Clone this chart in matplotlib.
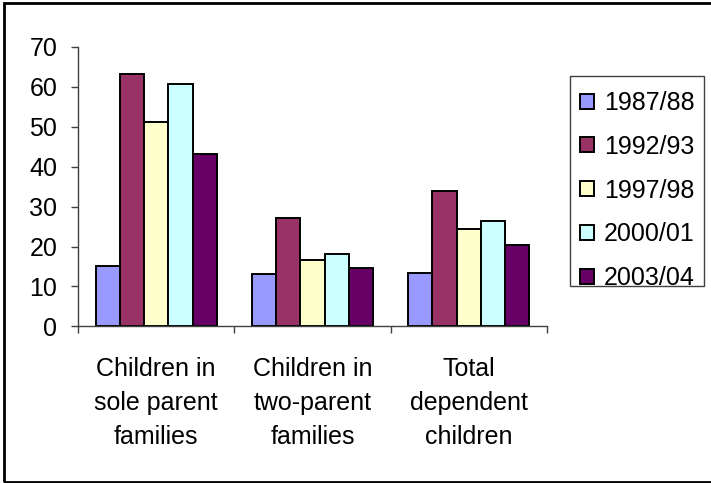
import numpy as np
import matplotlib.pyplot as plt
from matplotlib.patches import Rectangle

plt.rcParams['font.family'] = ['Liberation Sans', 'DejaVu Sans']

categories = ['Children in\nsole parent\nfamilies', 'Children in\ntwo-parent\nfamilies', 'Total\ndependent\nchildren']
years = ['1987/88', '1992/93', '1997/98', '2000/01', '2003/04']
v_1987 = [15.0, 13.0, 13.4]
v_1992 = [63.2, 27.1, 33.9]
v_1997 = [51.1, 16.6, 24.4]
v_2000 = [60.7, 18.2, 26.5]
v_2003 = [43.3, 14.5, 20.3]
series = [v_1987, v_1992, v_1997, v_2000, v_2003]
colors = ['#9999FF', '#993366', '#FFFFCC', '#CCFFFF', '#660066']

W, H = 711, 483
fig = plt.figure(figsize=(W / 100, H / 100), dpi=100)
ax = fig.add_axes([78 / W, 1 - 326.3 / H, 469 / W, 279.3 / H])

x = np.arange(len(categories))
bw = 0.155
for k, (vals, col, lab) in enumerate(zip(series, colors, years)):
    ax.bar(x + (k - 2) * bw, vals, bw, color=col, edgecolor='black', linewidth=1.4, label=lab)

ax.set_xlim(-0.5, 2.5)
ax.set_ylim(0, 70)
ax.set_yticks(range(0, 71, 10))
ax.set_xticks([-0.5, 0.5, 1.5, 2.5])
ax.set_xticklabels([])
ax.set_xticks(x, minor=True)
ax.set_xticklabels(categories, minor=True, linespacing=1.52)

for s in ['top', 'right']:
    ax.spines[s].set_visible(False)
for s in ['left', 'bottom']:
    ax.spines[s].set_color('#404040')
    ax.spines[s].set_linewidth(1)

ax.tick_params(axis='y', labelsize=18, length=5, width=1, color='#404040', pad=10)
ax.tick_params(axis='x', which='major', length=5, width=1, color='#404040')
ax.tick_params(axis='x', which='minor', length=0, labelsize=18, pad=22)

# legend box drawn separately (Excel puts more room above the entries than below)
fig.patches.append(Rectangle((570 / W, 1 - 286 / H), 134 / W, 210 / H, transform=fig.transFigure,
                             fill=False, edgecolor='#404040', linewidth=1))
leg = ax.legend(loc='upper left', bbox_to_anchor=(580 / W, 1 - 91 / H), bbox_transform=fig.transFigure,
                borderaxespad=0, borderpad=0, fontsize=18, frameon=False,
                handlelength=0.55, handleheight=0.55, handletextpad=0.4,
                labelspacing=0.79)

fig.patches.append(Rectangle((4 / W, 1.5 / H), 1.0, 478.5 / H, transform=fig.transFigure,
                             fill=False, edgecolor='black', linewidth=2, clip_on=False))

fig.savefig('out.png', dpi=100)
